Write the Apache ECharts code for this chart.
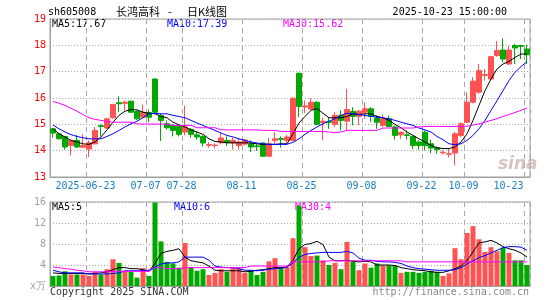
<!DOCTYPE html>
<html><head><meta charset="utf-8">
<script src="https://cdn.jsdelivr.net/npm/echarts@6/dist/echarts.min.js"></script>
<style>html,body{margin:0;padding:0;background:#fff}#c{width:545px;height:300px}</style>
</head><body><div id="c"></div>
<script>
const dates = ['2025-06-13','2025-06-16','2025-06-17','2025-06-18','2025-06-19','2025-06-20','2025-06-23','2025-06-24','2025-06-25','2025-06-26',
'2025-06-27','2025-06-30','2025-07-01','2025-07-02','2025-07-03','2025-07-04','2025-07-07','2025-07-08','2025-07-09','2025-07-10',
'2025-07-11','2025-07-14','2025-07-28','2025-07-29','2025-07-30','2025-07-31','2025-08-01','2025-08-04','2025-08-05','2025-08-06',
'2025-08-07','2025-08-08','2025-08-11','2025-08-12','2025-08-13','2025-08-14','2025-08-15','2025-08-18','2025-08-19','2025-08-20',
'2025-08-21','2025-08-22','2025-08-25','2025-08-26','2025-08-27','2025-08-28','2025-08-29','2025-09-01','2025-09-02','2025-09-03',
'2025-09-04','2025-09-05','2025-09-08','2025-09-09','2025-09-10','2025-09-11','2025-09-12','2025-09-15','2025-09-16','2025-09-17',
'2025-09-18','2025-09-19','2025-09-22','2025-09-23','2025-09-24','2025-09-25','2025-09-26','2025-09-29','2025-09-30','2025-10-09',
'2025-10-10','2025-10-13','2025-10-14','2025-10-15','2025-10-16','2025-10-17','2025-10-20','2025-10-21','2025-10-22','2025-10-23'];
const tickDates = ['2025-06-23','2025-07-07','2025-07-28','2025-08-11','2025-08-25','2025-09-08','2025-09-22','2025-10-09','2025-10-23'];
const tickLabels = ['2025-06-23','07-07','07-28','08-11','08-25','09-08','09-22','10-09','10-23'];

const open = [14.83,14.64,14.54,14.20,14.39,14.13,14.06,14.26,14.95,14.86,15.25,15.82,15.80,15.88,15.49,15.27,15.45,16.72,15.34,15.02,
14.96,14.92,14.71,14.81,14.60,14.54,14.21,14.19,14.30,14.39,14.29,14.20,14.25,14.26,14.18,14.29,13.79,14.39,14.46,14.39,
14.39,16.94,15.66,15.58,15.84,15.07,15.10,15.00,15.34,15.12,15.49,15.30,15.46,15.59,15.24,14.96,15.21,14.90,14.60,14.60,
14.54,14.33,14.70,14.26,14.11,13.92,13.86,13.91,14.58,15.08,15.84,16.22,16.86,16.72,17.61,17.82,17.29,17.99,17.99,17.86];
const close = [14.67,14.45,14.14,14.39,14.14,14.20,14.30,14.77,14.92,15.21,15.75,15.78,15.84,15.46,15.21,15.46,15.27,15.46,15.15,14.87,
14.77,14.62,14.90,14.62,14.52,14.29,14.23,14.21,14.48,14.30,14.39,14.33,14.40,14.14,14.15,13.79,14.26,14.45,14.43,14.52,
15.99,15.68,15.70,15.84,15.00,15.12,15.07,15.34,15.15,15.56,15.30,15.50,15.59,15.30,15.08,15.21,14.92,14.58,14.70,14.58,
14.20,14.20,14.20,14.10,14.04,13.94,13.88,14.64,15.02,15.84,16.64,17.04,16.89,17.57,17.80,17.48,17.82,17.90,17.96,17.64];
const low = [14.50,14.43,14.04,13.82,14.10,14.10,13.76,14.24,14.55,14.83,15.21,15.46,15.53,15.44,15.17,15.25,15.08,15.42,14.37,14.80,
14.54,14.54,14.58,14.49,14.42,14.16,14.11,14.08,14.24,14.18,14.04,14.04,14.20,13.95,13.99,13.76,13.76,14.26,14.11,14.30,
14.37,15.27,15.43,15.53,14.97,14.39,14.83,14.90,14.77,14.77,14.96,14.96,15.21,15.08,14.83,14.90,14.90,14.42,14.45,14.42,
14.06,14.04,14.01,13.91,13.89,13.86,13.74,13.45,14.52,15.05,15.80,16.16,16.66,16.69,17.57,17.35,17.26,17.29,17.48,17.29];
const high = [14.87,14.68,14.56,14.42,14.60,14.62,14.39,14.90,15.00,15.25,15.78,16.06,15.90,15.90,15.53,15.75,15.56,16.75,15.40,15.15,
15.00,14.96,15.71,14.86,14.71,14.58,14.32,14.28,14.67,14.54,14.49,14.49,14.45,14.39,14.26,14.33,14.49,14.71,14.54,14.60,
16.03,16.96,15.90,15.99,15.87,15.25,15.25,15.46,15.53,16.35,15.65,15.55,15.84,15.65,15.34,15.37,15.34,14.96,14.73,14.77,
14.58,14.39,14.77,14.42,14.16,14.01,14.08,14.71,15.08,16.22,16.79,17.29,17.10,17.60,18.17,18.27,17.98,18.05,18.02,18.02];

const ma5 = [14.83,14.64,14.52,14.39,14.33,14.26,14.24,14.33,14.52,14.79,15.08,15.34,15.50,15.56,15.55,15.46,15.42,15.40,15.30,15.25,
15.08,14.98,14.90,14.79,14.71,14.62,14.45,14.35,14.33,14.30,14.30,14.30,14.30,14.29,14.26,14.23,14.24,14.24,14.26,14.26,
14.64,15.05,15.30,15.53,15.60,15.42,15.25,15.25,15.25,15.30,15.40,15.37,15.40,15.40,15.30,15.25,15.15,15.00,14.87,14.71,
14.58,14.45,14.33,14.20,14.11,14.08,14.08,14.14,14.33,14.64,15.15,15.72,16.28,16.72,17.10,17.29,17.39,17.54,17.67,17.67];
const ma10 = [14.98,14.83,14.71,14.61,14.54,14.49,14.45,14.45,14.45,14.54,14.64,14.77,14.90,15.02,15.12,15.25,15.40,15.42,15.40,15.40,
15.34,15.30,15.25,15.15,15.05,14.96,14.86,14.77,14.67,14.58,14.52,14.45,14.39,14.33,14.29,14.26,14.24,14.24,14.24,14.24,
14.32,14.45,14.62,14.77,14.90,15.02,15.12,15.21,15.34,15.42,15.40,15.37,15.34,15.30,15.27,15.25,15.21,15.15,15.08,15.02,
14.96,14.86,14.79,14.71,14.54,14.42,14.26,14.23,14.26,14.39,14.58,14.83,15.15,15.53,15.90,16.28,16.66,16.98,17.19,17.39];
const ma30 = [15.87,15.80,15.72,15.61,15.50,15.37,15.25,15.19,15.15,15.11,15.08,15.08,15.08,15.08,15.02,15.01,15.01,15.01,15.01,15.00,
14.96,14.96,14.96,14.96,14.87,14.87,14.87,14.87,14.79,14.79,14.79,14.79,14.79,14.79,14.79,14.77,14.77,14.77,14.73,14.73,
14.73,14.73,14.73,14.73,14.73,14.73,14.71,14.68,14.71,14.77,14.77,14.77,14.77,14.77,14.77,14.86,14.86,14.86,14.86,14.86,
14.86,14.90,14.92,14.92,14.92,14.92,14.92,14.92,14.92,14.93,14.97,15.02,15.08,15.15,15.21,15.30,15.37,15.45,15.53,15.62];

const volume = [1.9,2.0,2.8,2.2,2.2,2.2,1.9,2.7,2.2,3.2,5.1,4.4,2.8,2.7,1.6,3.4,1.9,15.9,8.5,4.6,
4.3,3.5,8.2,3.6,2.9,3.2,2.1,2.5,3.2,2.7,3.5,3.3,2.5,3.0,2.1,2.7,4.7,5.3,3.6,3.6,
9.1,15.3,7.4,5.7,5.8,4.9,4.0,4.4,3.2,8.4,4.6,3.0,4.3,3.5,4.3,3.9,3.9,3.9,2.5,2.7,
2.7,2.5,2.7,2.9,2.7,1.9,2.4,7.2,5.1,10.1,11.4,8.9,6.5,7.4,6.6,7.3,6.3,4.9,4.9,4.0];
const volMa5 = [2.5,2.4,2.4,2.4,2.4,2.4,2.3,2.4,2.5,2.7,3.1,3.5,3.5,3.3,3.3,3.1,2.8,4.3,6.2,6.6,
6.8,7.1,5.5,4.8,4.6,4.4,3.8,3.0,2.9,2.9,2.9,2.9,2.7,2.8,3.0,3.1,3.3,3.5,3.5,3.6,
4.9,7.1,7.9,8.1,8.5,7.9,5.5,4.8,4.8,4.9,4.7,4.6,4.7,4.6,4.0,4.0,4.0,3.9,3.5,3.3,
3.1,3.0,2.9,2.7,2.6,2.6,2.9,3.3,3.8,4.8,6.5,8.2,8.4,8.7,8.2,7.5,7.1,6.8,6.3,5.5];
const volMa10 = [3.0,2.7,2.5,2.5,2.5,2.5,2.3,2.3,2.3,2.3,2.4,2.5,2.9,2.9,2.9,2.9,3.0,3.6,4.2,4.4,
4.4,4.6,5.5,5.5,5.5,5.5,4.9,3.8,3.6,3.5,3.5,3.3,3.0,3.0,2.9,3.0,3.2,3.3,3.4,3.6,
4.4,5.5,6.0,6.2,6.3,6.4,6.4,6.4,6.4,6.6,6.3,5.3,4.9,4.9,4.7,4.6,4.6,4.5,4.3,3.8,
3.5,3.3,3.2,3.1,3.0,3.0,3.0,3.1,3.5,4.2,4.8,5.4,5.8,6.3,6.8,7.3,7.5,7.5,7.4,6.8];
const volMa30 = [3.6,3.5,3.3,3.2,3.0,2.9,2.7,2.7,2.7,2.7,2.8,2.8,2.8,2.8,2.8,2.8,2.8,3.5,3.5,3.3,
3.3,3.3,3.5,3.5,3.5,3.5,3.5,3.5,3.5,3.5,3.5,3.5,3.5,3.8,3.8,3.8,3.8,3.8,3.8,3.8,
4.6,4.6,4.6,4.6,4.6,4.6,4.8,4.8,4.8,4.8,4.8,4.8,4.8,4.8,4.8,4.8,4.8,4.8,4.8,4.6,
4.6,4.6,4.6,4.6,4.6,4.6,4.6,4.6,4.6,4.6,4.6,4.6,4.6,4.6,4.6,4.6,4.6,4.6,4.6,4.6];

const UP = '#ff5252', DOWN = '#00a800';
const MONO = '"DejaVu Sans Mono", monospace';
const kData = open.map((o, i) => [o, close[i], low[i], high[i]]);
const volData = volume.map((v, i) => ({ value: v, itemStyle: { color: close[i] >= open[i] ? UP : DOWN } }));
const isTick = (idx, val) => tickDates.indexOf(val) >= 0;
const last = dates.length - 1;

const chart = echarts.init(document.getElementById('c'), null, { renderer: 'canvas' });
const gridStyle = { show: true, borderColor: '#a0a0a0', borderWidth: 1, backgroundColor: 'transparent' };
const xSplit = { show: true, interval: isTick, lineStyle: { color: '#a8a8a8', type: [5, 4], width: 1 } };
const ySplit = { show: true, lineStyle: { color: '#a8a8a8', type: [1, 2], width: 1 } };

function txt(x, y, text, fill, align, font) {
  return { type: 'text', x: x, y: y, silent: true,
    style: { text: text, fill: fill, align: align || 'left', verticalAlign: 'middle', font: font || ('10px ' + MONO) } };
}

chart.setOption({
  animation: false,
  grid: [
    Object.assign({ left: 50, top: 19, width: 480, height: 158 }, gridStyle),
    Object.assign({ left: 50, top: 202, width: 480, height: 84 }, gridStyle)
  ],
  xAxis: [
    { type: 'category', gridIndex: 0, data: dates, boundaryGap: true,
      axisLine: { lineStyle: { color: '#a0a0a0' } }, axisTick: { show: false },
      axisLabel: { interval: isTick, margin: 4, fontFamily: MONO, fontSize: 10, color: '#1a80c4',
        formatter: function (v) { const k = tickDates.indexOf(v); if (k < 0) return ''; return (v === dates[last] ? '{e|' : '{n|') + tickLabels[k] + '}'; },
        rich: { n: { fontFamily: MONO, fontSize: 10, color: '#1a80c4', padding: [0, 7, 0, 0] },
                e: { fontFamily: MONO, fontSize: 10, color: '#1a80c4', padding: [0, 37, 0, 0] } } },
      splitLine: xSplit },
    { type: 'category', gridIndex: 1, data: dates, boundaryGap: true,
      axisLine: { lineStyle: { color: '#a0a0a0' } }, axisTick: { show: false }, axisLabel: { show: false },
      splitLine: xSplit }
  ],
  yAxis: [
    { type: 'value', gridIndex: 0, min: 13, max: 19, interval: 1,
      axisLine: { show: true, lineStyle: { color: '#a0a0a0' } }, axisTick: { show: false },
      axisLabel: { margin: 4, fontFamily: MONO, fontSize: 10, color: '#ff0000' }, splitLine: ySplit },
    { type: 'value', gridIndex: 1, min: 0, max: 16, interval: 4,
      axisLine: { show: true, lineStyle: { color: '#a0a0a0' } }, axisTick: { show: false },
      axisLabel: { margin: 4, fontFamily: MONO, fontSize: 10, color: '#a0a0a0', formatter: v => v === 0 ? 'x万' : String(v) },
      splitLine: ySplit }
  ],
  series: [
    { type: 'candlestick', xAxisIndex: 0, yAxisIndex: 0, data: kData, barWidth: 5,
      itemStyle: { color: UP, color0: DOWN, borderColor: UP, borderColor0: DOWN, borderWidth: 1 } },
    { type: 'line', xAxisIndex: 0, yAxisIndex: 0, data: ma5, symbol: 'none', lineStyle: { color: '#000', width: 1 } },
    { type: 'line', xAxisIndex: 0, yAxisIndex: 0, data: ma10, symbol: 'none', lineStyle: { color: '#0000ff', width: 1 } },
    { type: 'line', xAxisIndex: 0, yAxisIndex: 0, data: ma30, symbol: 'none', lineStyle: { color: '#ff00ff', width: 1 } },
    { type: 'bar', xAxisIndex: 1, yAxisIndex: 1, data: volData, barWidth: 5 },
    { type: 'line', xAxisIndex: 1, yAxisIndex: 1, data: volMa5, symbol: 'none', lineStyle: { color: '#000', width: 1 } },
    { type: 'line', xAxisIndex: 1, yAxisIndex: 1, data: volMa10, symbol: 'none', lineStyle: { color: '#0000ff', width: 1 } },
    { type: 'line', xAxisIndex: 1, yAxisIndex: 1, data: volMa30, symbol: 'none', lineStyle: { color: '#ff00ff', width: 1 } }
  ],
  graphic: [
    txt(48, 12, 'sh605008', '#000'),
    txt(116, 12, '长鸿高科', '#000', 'left', '11px "Noto Sans CJK SC"'),
    txt(170, 12, '-', '#000', 'center', '11px "Noto Sans CJK SC"'),
    txt(187, 12, '日K线图', '#000', 'left', '11px "Noto Sans CJK SC"'),
    txt(507, 12, '2025-10-23 15:00:00', '#000', 'right'),
    txt(52, 24, 'MA5:' + ma5[last].toFixed(2), '#000'),
    txt(167, 24, 'MA10:' + ma10[last].toFixed(2), '#0000ff'),
    txt(283, 24, 'MA30:' + ma30[last].toFixed(2), '#ff00ff'),
    txt(52, 207, 'MA5:' + Math.floor(volMa5[last]), '#000'),
    txt(174, 207, 'MA10:' + Math.floor(volMa10[last]), '#0000ff'),
    txt(295, 207, 'MA30:' + Math.floor(volMa30[last]), '#ff00ff'),
    txt(50, 292, 'Copyright 2025 SINA.COM', '#333'),
    txt(529, 292, 'http://finance.sina.com.cn', '#888', 'right'),
    txt(498, 165, 'sina', 'rgba(200,170,170,0.7)', 'left', 'italic bold 17px "DejaVu Sans"')
  ]
});
</script></body></html>
